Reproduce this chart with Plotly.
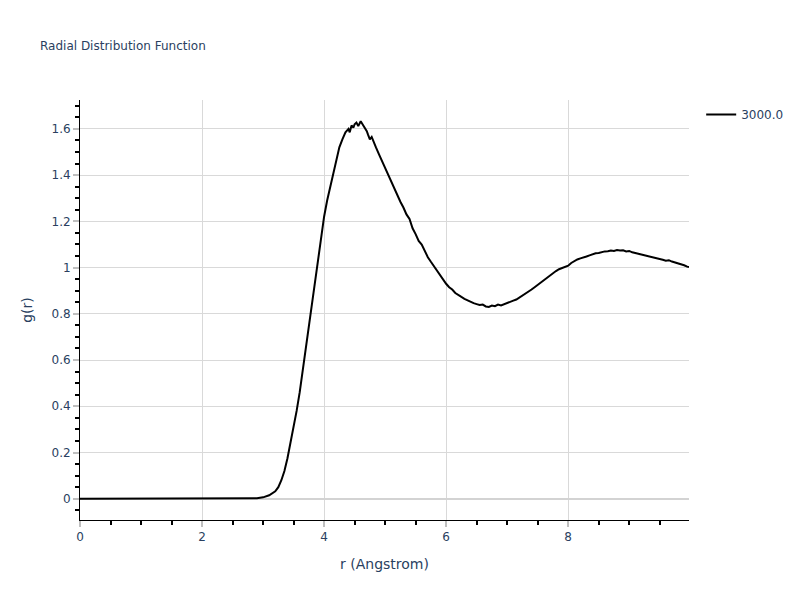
import plotly.graph_objects as go

r_vals = [0.0, 0.7, 2.8, 2.9, 3.0, 3.1, 3.2, 3.25, 3.3, 3.35, 3.4, 3.45, 3.5, 3.55, 3.6, 3.65, 3.7,
          3.75, 3.8, 3.85, 3.9, 3.95, 4.0, 4.05, 4.1, 4.15, 4.2, 4.25, 4.3, 4.35, 4.4, 4.42, 4.45,
          4.48, 4.5, 4.53, 4.56, 4.6, 4.63, 4.66, 4.7, 4.72, 4.75, 4.78, 4.8, 4.85, 4.9, 4.95, 5.0,
          5.05, 5.1, 5.15, 5.2, 5.25, 5.3, 5.35, 5.4, 5.45, 5.5, 5.55, 5.6, 5.65, 5.7, 5.75, 5.8,
          5.85, 5.9, 5.95, 6.0, 6.05, 6.1, 6.15, 6.2, 6.25, 6.3, 6.35, 6.4, 6.45, 6.5, 6.55, 6.6,
          6.65, 6.7, 6.75, 6.8, 6.85, 6.9, 6.95, 7.0, 7.05, 7.1, 7.15, 7.2, 7.25, 7.3, 7.35, 7.4,
          7.45, 7.5, 7.55, 7.6, 7.65, 7.7, 7.75, 7.8, 7.85, 7.9, 7.95, 8.0, 8.05, 8.1, 8.15, 8.2,
          8.25, 8.3, 8.35, 8.4, 8.45, 8.5, 8.55, 8.6, 8.65, 8.7, 8.75, 8.8, 8.85, 8.9, 8.95, 9.0,
          9.05, 9.1, 9.15, 9.2, 9.25, 9.3, 9.35, 9.4, 9.45, 9.5, 9.55, 9.6, 9.65, 9.7, 9.75, 9.8,
          9.85, 9.9, 9.95, 9.98]

g_vals = [0.0, 0.0005, 0.001, 0.002, 0.006, 0.015, 0.032, 0.05, 0.08, 0.12, 0.175, 0.245, 0.30,
          0.38, 0.46, 0.555, 0.65, 0.745, 0.83, 0.915, 1.01, 1.12, 1.22, 1.29, 1.345, 1.40, 1.46,
          1.52, 1.555, 1.585, 1.60, 1.585, 1.615, 1.605, 1.62, 1.627, 1.612, 1.633, 1.62, 1.608,
          1.59, 1.575, 1.555, 1.565, 1.55, 1.52, 1.49, 1.46, 1.43, 1.40, 1.375, 1.34, 1.31, 1.285,
          1.26, 1.23, 1.21, 1.17, 1.145, 1.115, 1.10, 1.07, 1.045, 1.025, 1.005, 0.985, 0.965,
          0.945, 0.93, 0.915, 0.905, 0.89, 0.88, 0.873, 0.865, 0.858, 0.852, 0.846, 0.842, 0.838,
          0.840, 0.832, 0.830, 0.836, 0.833, 0.840, 0.836, 0.842, 0.845, 0.852, 0.857, 0.862,
          0.870, 0.878, 0.887, 0.895, 0.905, 0.915, 0.925, 0.937, 0.948, 0.958, 0.968, 0.977,
          0.985, 0.993, 0.998, 1.003, 1.008, 1.020, 1.028, 1.035, 1.040, 1.043, 1.048, 1.053,
          1.058, 1.062, 1.063, 1.068, 1.070, 1.071, 1.074, 1.072, 1.076, 1.074, 1.075, 1.070,
          1.072, 1.066, 1.063, 1.060, 1.057, 1.053, 1.050, 1.048, 1.044, 1.040, 1.040, 1.034,
          1.030, 1.032, 1.026, 1.022, 1.020, 1.015, 1.010, 1.004, 1.002]

series_name = "3000.0"

fig = go.Figure()
fig.add_trace(go.Scatter(x=r_vals, y=g_vals, mode="lines", name=series_name,
                         line=dict(color="black", width=2), showlegend=True))

axis_common = dict(
    showline=True, linecolor="black", linewidth=1,
    showgrid=True, gridcolor="#d9d9d9", gridwidth=1,
    zeroline=True, zerolinecolor="#d3d3d3", zerolinewidth=2,
    ticks="outside", tickcolor="#bfbfbf", ticklen=6, tickwidth=2,
    tickfont=dict(size=12, color="#2a3f5f"),
)

fig.update_layout(
    width=800, height=600,
    template="plotly",
    font=dict(family="DejaVu Sans, Verdana, sans-serif", color="#2a3f5f"),
    plot_bgcolor="white", paper_bgcolor="white",
    title=dict(text="Radial Distribution Function", font=dict(size=12, color="#2a3f5f"), x=0.05),
    xaxis=dict(title=dict(text="r (Angstrom)", font=dict(size=14, color="#2a3f5f")),
               range=[0, 9.98], dtick=2,
               minor=dict(ticks="outside", dtick=0.5, ticklen=4, tickcolor="black", showgrid=False),
               **axis_common),
    yaxis=dict(title=dict(text="g(r)", font=dict(size=14, color="#2a3f5f")),
               range=[-0.092, 1.725], dtick=0.2,
               minor=dict(ticks="outside", dtick=0.05, ticklen=4, tickcolor="black", showgrid=False),
               **axis_common),
    legend=dict(font=dict(size=12, color="#2a3f5f")),
    margin=dict(l=80, r=80, t=100, b=80),
)

fig.write_html("out.html", config={"displayModeBar": False},
               post_script="document.body.style.margin='0';")
